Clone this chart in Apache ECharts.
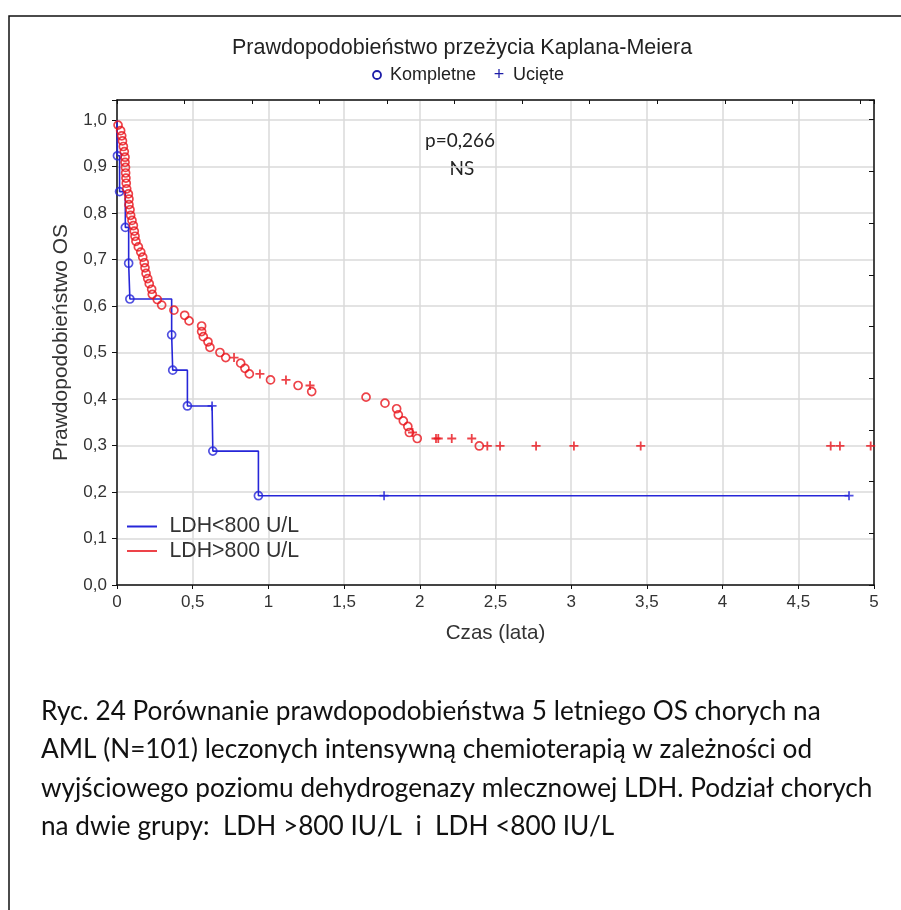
<!DOCTYPE html>
<html>
<head>
<meta charset="utf-8">
<script src="https://cdn.jsdelivr.net/npm/echarts@6/dist/echarts.min.js"></script>
<style>
html,body{margin:0;padding:0;background:#fff;}
#chart{width:901px;height:910px;}
</style>
</head>
<body>
<div id="chart"></div>
<script>
// ---- data ----
const xTicks = [0, 0.5, 1, 1.5, 2, 2.5, 3, 3.5, 4, 4.5, 5];
const yTicks = [0, 0.1, 0.2, 0.3, 0.4, 0.5, 0.6, 0.7, 0.8, 0.9, 1.0];

// LDH<800 U/L (blue): events (deaths) and censored
const blueDeathT = [0.003, 0.017, 0.055, 0.077, 0.085, 0.361, 0.368, 0.465, 0.633, 0.934];
const blueDeathS = [0.923, 0.846, 0.769, 0.692, 0.615, 0.538, 0.462, 0.385, 0.288, 0.192];
const blueCensT = [0.628, 1.764, 4.835];
const blueCensS = [0.385, 0.192, 0.192];

// LDH>800 U/L (red)
const redDeathT = [0.007,0.024,0.031,0.036,0.042,0.048,0.053,0.053,0.056,0.057,0.059,0.061,0.064,0.075,0.079,0.079,0.086,0.090,0.099,0.108,0.114,0.119,0.125,0.141,0.157,0.170,0.180,0.185,0.192,0.203,0.213,0.229,0.233,0.266,0.295,0.376,0.447,0.476,0.559,0.559,0.570,0.601,0.614,0.680,0.718,0.817,0.845,0.874,1.014,1.196,1.286,1.645,1.770,1.847,1.858,1.891,1.921,1.931,1.983,2.393];
const redDeathS = [0.989,0.977,0.966,0.955,0.943,0.932,0.920,0.909,0.898,0.886,0.875,0.864,0.852,0.841,0.830,0.818,0.807,0.795,0.784,0.773,0.761,0.750,0.739,0.727,0.716,0.705,0.693,0.682,0.670,0.659,0.648,0.636,0.625,0.614,0.602,0.591,0.580,0.568,0.557,0.545,0.534,0.523,0.511,0.500,0.489,0.477,0.466,0.454,0.441,0.429,0.416,0.404,0.391,0.379,0.366,0.353,0.341,0.328,0.315,0.299];
const redCensT = [0.773, 0.944, 1.116, 1.275, 1.952, 2.107, 2.122, 2.211, 2.343, 2.446, 2.530, 2.768, 3.018, 3.459, 4.714, 4.775, 4.978];
const redCensS = [0.489, 0.454, 0.441, 0.429, 0.328, 0.315, 0.315, 0.315, 0.315, 0.299, 0.299, 0.299, 0.299, 0.299, 0.299, 0.299, 0.299];

const seriesNames = ['LDH<800 U/L', 'LDH>800 U/L'];
const titleText = 'Prawdopodobieństwo przeżycia Kaplana-Meiera';
const markerLegend = ['Kompletne', 'Ucięte'];
const xName = 'Czas (lata)';
const yName = 'Prawdopodobieństwo OS';
const pText = ['p=0,266', 'NS'];
const captionLines = [
  'Ryc. 24 Porównanie prawdopodobieństwa 5 letniego OS chorych na',
  'AML (N=101) leczonych intensywną chemioterapią w zależności od',
  'wyjściowego poziomu dehydrogenazy mlecznowej LDH. Podział chorych',
  'na dwie grupy:  LDH >800 IU/L  i  LDH <800 IU/L'
];

// ---- build ----
const BLUE = '#2626d8';
const RED = '#e8141c';
const zip = (a, b) => a.map((v, i) => [v, b[i]]);

function stepLine(dT, dS, cT, cS) {
  const ev = dT.map((t, i) => ({t, s: dS[i], d: true}))
    .concat(cT.map((t, i) => ({t, s: cS[i], d: false})))
    .sort((a, b) => a.t - b.t);
  const pts = [[0, 1]];
  let cur = 1;
  ev.forEach(e => {
    if (e.d) { pts.push([e.t, cur]); pts.push([e.t, e.s]); cur = e.s; }
    else { pts.push([e.t, cur]); }
  });
  return pts;
}

function fitSize(text, family, target) {
  const c = document.createElement('canvas').getContext('2d');
  c.font = '100px ' + family;
  return 100 * target / c.measureText(text).width;
}

const CROSS = 'path://M0,3.2H8V4.8H0Z M3.2,0H4.8V8H3.2Z';
const capSize = (fitSize(captionLines[0], 'Lato', 776) + fitSize(captionLines[1], 'Lato', 766) + fitSize(captionLines[2], 'Lato', 843)) / 3;
const pSize = fitSize(pText[0], 'Lato', 70);
const dec = v => String(+v.toFixed(1)).replace('.', ',');

const chart = echarts.init(document.getElementById('chart'), null, {renderer: 'canvas'});
const option = {
  backgroundColor: '#fff',
  animation: false,
  title: {
    text: titleText, left: 232, top: 37, padding: 0,
    textStyle: {fontFamily: 'Liberation Sans', fontSize: 21.5, fontWeight: 'normal', color: '#222'}
  },
  legend: {
    orient: 'vertical', left: 127, top: 516, itemGap: 3.5, itemWidth: 33, itemHeight: 2,
    padding: 0,
    data: [
      {name: seriesNames[0], icon: 'path://M0,0H30V2H0Z', itemStyle: {color: BLUE, borderWidth: 0}},
      {name: seriesNames[1], icon: 'path://M0,0H30V2H0Z', itemStyle: {color: RED, borderWidth: 0}}
    ],
    textStyle: {fontFamily: 'Liberation Sans', fontSize: 21.3, color: '#333', padding: [0, 0, 0, 6]}
  },
  grid: {left: 117, right: 27, top: 100, bottom: 325, containLabel: false},
  xAxis: [{
    type: 'value', min: xTicks[0], max: xTicks[xTicks.length - 1], interval: 0.5, position: 'bottom',
    name: xName, nameLocation: 'middle', nameGap: 38,
    nameTextStyle: {fontFamily: 'Liberation Sans', fontSize: 20.6, color: '#333'},
    axisLine: {show: true, lineStyle: {color: '#111', width: 1.5}},
    axisTick: {show: true, inside: false, length: 4, lineStyle: {color: '#111'}},
    axisLabel: {margin: 9, fontFamily: 'Liberation Sans', fontSize: 17, color: '#333', formatter: v => dec(v)},
    splitLine: {show: true, lineStyle: {color: '#dadada', width: 1.5}}
  }, {
    type: 'value', min: 0, max: 11.21, interval: 1, position: 'top',
    axisLine: {show: true, onZero: false, lineStyle: {color: '#111', width: 1.5}},
    axisTick: {show: true, inside: true, length: 4, lineStyle: {color: '#111'}},
    axisLabel: {show: false}, splitLine: {show: false}
  }],
  yAxis: [{
    type: 'value', min: 0, max: 1.043, interval: 0.1, position: 'left',
    name: yName, nameLocation: 'middle', nameGap: 45, nameRotate: 90,
    nameTextStyle: {fontFamily: 'Liberation Sans', fontSize: 21, color: '#333'},
    axisLine: {show: true, lineStyle: {color: '#111', width: 1.5}},
    axisTick: {show: true, inside: false, length: 5, lineStyle: {color: '#111'}},
    axisLabel: {margin: 10, fontFamily: 'Liberation Sans', fontSize: 17, color: '#333',
      formatter: v => (v > 1.001 ? '' : v.toFixed(1).replace('.', ','))},
    splitLine: {show: true, lineStyle: {color: '#dadada', width: 1.5}}
  }, {
    type: 'value', min: 0, max: 9.38, interval: 1, position: 'right',
    axisLine: {show: true, onZero: false, lineStyle: {color: '#111', width: 1.5}},
    axisTick: {show: true, inside: true, length: 5, lineStyle: {color: '#111'}},
    axisLabel: {show: false}, splitLine: {show: false}
  }],
  series: [
    {
      name: seriesNames[0], type: 'line', xAxisIndex: 0, yAxisIndex: 0,
      data: stepLine(blueDeathT, blueDeathS, blueCensT, blueCensS),
      showSymbol: false, symbol: 'none', lineStyle: {color: BLUE, width: 1.6}, itemStyle: {color: BLUE}, z: 3
    },
    {
      name: 'blueDeaths', type: 'scatter', data: zip(blueDeathT, blueDeathS), symbol: 'circle', symbolSize: 8,
      itemStyle: {color: 'rgba(255,255,255,0)', borderColor: BLUE, borderWidth: 1.7}, z: 4
    },
    {
      name: 'blueCens', type: 'scatter', data: zip(blueCensT, blueCensS), symbol: CROSS, symbolSize: 9,
      itemStyle: {color: BLUE}, z: 4
    },
    {
      name: seriesNames[1], type: 'scatter', data: zip(redDeathT, redDeathS), symbol: 'circle', symbolSize: 8,
      itemStyle: {color: 'rgba(255,255,255,0)', borderColor: RED, borderWidth: 1.7}, z: 5
    },
    {
      name: 'redCens', type: 'scatter', data: zip(redCensT, redCensS), symbol: CROSS, symbolSize: 9,
      itemStyle: {color: RED}, z: 5
    }
  ],
  graphic: [
    {type: 'rect', shape: {x: 9, y: 16, width: 1000, height: 1000}, style: {fill: 'none', stroke: '#111', lineWidth: 1.5}, z: 0, silent: true},
    {type: 'circle', shape: {cx: 377, cy: 75, r: 4}, style: {fill: 'none', stroke: '#1d1da8', lineWidth: 1.8}},
    {type: 'text', x: 390, y: 75, style: {text: markerLegend[0], fontFamily: 'Liberation Sans', fontSize: 18, fill: '#222', verticalAlign: 'middle'}},
    {type: 'text', x: 499, y: 75, style: {text: '+', fontFamily: 'Liberation Sans', fontSize: 18, fill: '#1d1da8', align: 'center', verticalAlign: 'middle'}},
    {type: 'text', x: 513, y: 75, style: {text: markerLegend[1], fontFamily: 'Liberation Sans', fontSize: 18, fill: '#222', verticalAlign: 'middle'}},
    {type: 'text', x: 460, y: 141, style: {text: pText[0], fontFamily: 'Lato', fontSize: pSize, fill: '#222', align: 'center', verticalAlign: 'middle'}},
    {type: 'text', x: 462, y: 169, style: {text: pText[1], fontFamily: 'Lato', fontSize: pSize, fill: '#222', align: 'center', verticalAlign: 'middle'}},
    {type: 'text', x: 41, y: 712, style: {text: captionLines[0], fontFamily: 'Lato', fontSize: capSize, fill: '#111', verticalAlign: 'middle'}},
    {type: 'text', x: 41, y: 750, style: {text: captionLines[1], fontFamily: 'Lato', fontSize: capSize, fill: '#111', verticalAlign: 'middle'}},
    {type: 'text', x: 41, y: 789, style: {text: captionLines[2], fontFamily: 'Lato', fontSize: capSize, fill: '#111', verticalAlign: 'middle'}},
    {type: 'text', x: 41, y: 827, style: {text: captionLines[3], fontFamily: 'Lato', fontSize: capSize, fill: '#111', verticalAlign: 'middle'}}
  ]
};
chart.setOption(option);
</script>
</body>
</html>
